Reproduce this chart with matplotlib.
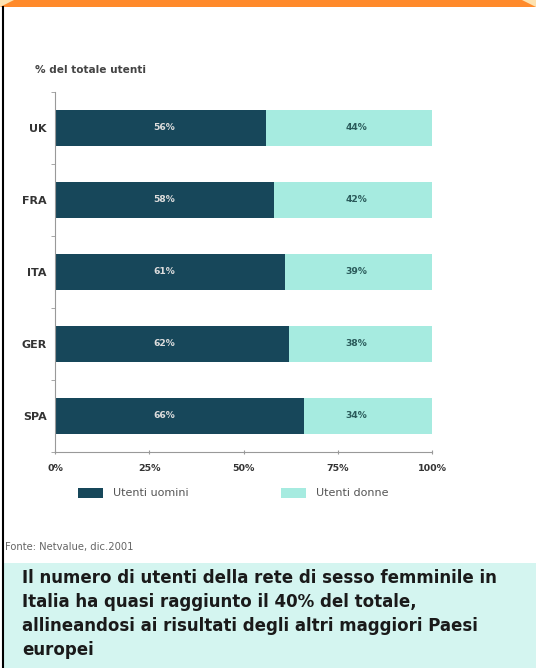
import numpy as np
import matplotlib
matplotlib.use("Agg")
from matplotlib import pyplot as plt
from matplotlib.patches import Rectangle, Polygon

# ---- data ----
paesi = ["UK", "FRA", "ITA", "GER", "SPA"]
uomini = [56, 58, 61, 62, 66]
donne = [44, 42, 39, 38, 34]
tick_vals = [0, 25, 50, 75, 100]
tick_labels = ["0%", "25%", "50%", "75%", "100%"]

dark = "#17475a"
light = "#a6ebe0"
orange = "#ff8a2b"
box = "#d4f5f0"

plt.rcParams['font.family'] = ['DejaVu Sans']

fig = plt.figure(figsize=(5.36, 6.68), dpi=100)
W, H = 536, 668

def fx(px):
    return px / W

def fy(py):
    return 1 - py / H

# ---- background frame ----
fig.patches.append(Rectangle((0, fy(7)), 1, fy(0) - fy(7), transform=fig.transFigure,
                             facecolor=orange, edgecolor="none", zorder=0))
fig.patches.append(Polygon([(0, fy(7)), (0, 1), (fx(14), 1)], closed=True, transform=fig.transFigure,
                           facecolor="#fde2b0", edgecolor="none", zorder=1))
fig.patches.append(Polygon([(1, fy(7)), (1, 1), (fx(522), 1)], closed=True, transform=fig.transFigure,
                           facecolor="#fde2b0", edgecolor="none", zorder=1))
fig.patches.append(Rectangle((fx(4), 0), 1 - fx(4), fy(563), transform=fig.transFigure,
                             facecolor=box, edgecolor="none", zorder=0))
fig.lines.append(plt.Line2D([fx(3), fx(3)], [0, fy(7)], transform=fig.transFigure,
                            color="black", lw=1.5))

# ---- chart ----
ax = fig.add_axes([fx(55), fy(452), fx(432) - fx(55), fy(92) - fy(452)])
y = np.arange(len(paesi))
ax.barh(y, uomini, height=0.5, color=dark, label="Utenti uomini")
ax.barh(y, donne, left=uomini, height=0.5, color=light, label="Utenti donne")

for i in range(len(paesi)):
    ax.text(29, y[i], f"{uomini[i]}%", color="#dddddd", ha="center", va="center",
            fontsize=6.6, fontweight="bold")
    ax.text(80, y[i], f"{donne[i]}%", color="#2a5a5a", ha="center", va="center",
            fontsize=6.6, fontweight="bold")

ax.set_xlim(0, 100)
ax.set_ylim(len(paesi) - 0.5, -0.5)
ax.set_xticks(tick_vals)
ax.set_xticklabels(tick_labels, fontsize=6.8, fontweight="bold", color="#333333")
ax.set_yticks(y)
ax.set_yticklabels(paesi, fontsize=8, fontweight="bold", color="#333333")
ax.set_yticks(np.arange(len(paesi) + 1) - 0.5, minor=True)
ax.tick_params(axis="y", which="major", length=0, pad=6)
ax.tick_params(axis="y", which="minor", length=3, color="#999999")
ax.tick_params(axis="x", length=3, color="#999999", direction="inout", pad=7)
for s in ["top", "right"]:
    ax.spines[s].set_visible(False)
for s in ["left", "bottom"]:
    ax.spines[s].set_color("#999999")
    ax.spines[s].set_linewidth(0.8)

ax.legend(loc="center left", bbox_to_anchor=(0.061, -0.114), ncol=2, frameon=False,
          fontsize=8, handlelength=2.25, handleheight=1.0, handletextpad=0.9,
          columnspacing=8.3, borderpad=0, borderaxespad=0, labelcolor="#555555")

# ---- texts ----
fig.text(fx(35), fy(70), "% del totale utenti", fontsize=7.6, fontweight="bold",
         color="#444444", va="center")
fig.text(fx(5), fy(547), "Fonte: Netvalue, dic.2001", fontsize=7.2, color="#666666", va="center")
fig.text(fx(22), fy(569), "Il numero di utenti della rete di sesso femminile in\n"
         "Italia ha quasi raggiunto il 40% del totale,\n"
         "allineandosi ai risultati degli altri maggiori Paesi\n"
         "europei", fontsize=12, fontweight="bold", color="#1a1a1a", va="top",
         linespacing=1.43)

fig.savefig("out.png", dpi=100)
